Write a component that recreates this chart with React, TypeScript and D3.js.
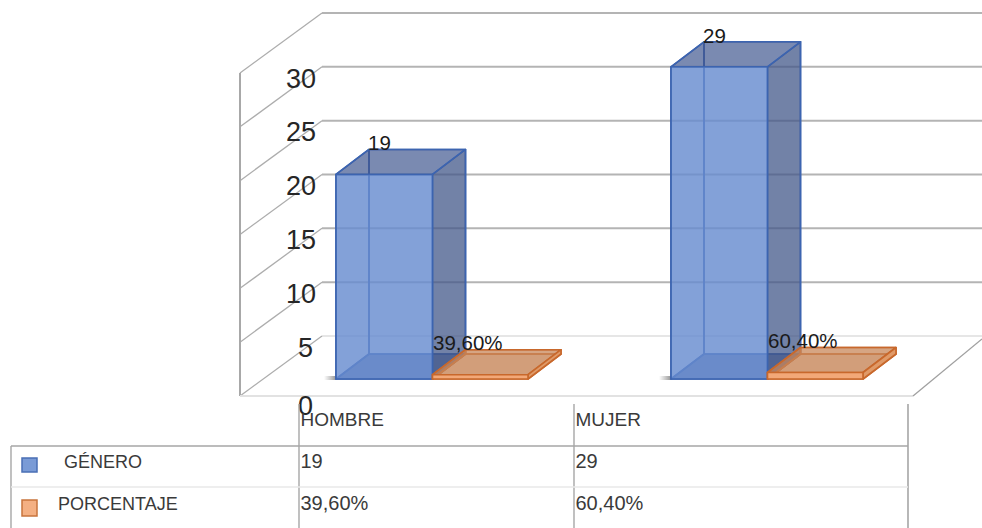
import React from "react";
import * as d3 from "d3";

// Chart values
const categories = ["HOMBRE", "MUJER"];
const genero = [19, 29];
const porcentaje = [0.396, 0.604];
const porcentajeLabels = ["39,60%", "60,40%"];
const seriesNames = ["GÉNERO", "PORCENTAJE"];
const ticks = [0, 5, 10, 15, 20, 25, 30];

const W = 982;
const H = 528;

// Oblique projection of the 3D box
const wall = { left: 240, frontFloor: 396, dx: 82, dy: 60, right: 913 };
const barDepth = { dx: 33, dy: 25 };
const y = d3.scaleLinear().domain([0, 30]).range([0, 323]);
const barBase = 379;
const bandStart = d3.scaleOrdinal<string, number>().domain(categories).range([336, 671]);
const barWidth = 96.5;

const line = d3.line();

type Box = { x: number; w: number; h: number };

function Box3D({ x, w, h, face, side, top, floor, back, stroke, sw }: Box & Record<string, any>) {
  const { dx, dy } = barDepth;
  const b = barBase;
  const t = b - h;
  const poly = (pts: [number, number][]) => line(pts)! + "Z";
  return (
    <g stroke={stroke} strokeWidth={sw} strokeLinejoin="round">
      <path d={poly([[x, b], [x + w, b], [x + w + dx, b - dy], [x + dx, b - dy]])} fill={floor} />
      <path d={poly([[x + dx, b - dy], [x + w + dx, b - dy], [x + w + dx, t - dy], [x + dx, t - dy]])} fill={back} />
      <path d={poly([[x, b], [x + dx, b - dy], [x + dx, t - dy], [x, t]])} fill={back} />
      <path d={poly([[x, t], [x + w, t], [x + w + dx, t - dy], [x + dx, t - dy]])} fill={top} />
      <path d={poly([[x + w, b], [x + w + dx, b - dy], [x + w + dx, t - dy], [x + w, t]])} fill={side} />
      <path d={poly([[x, b], [x + w, b], [x + w, t], [x, t]])} fill={face} />
    </g>
  );
}

const font = "'Liberation Sans', Arial, sans-serif";
const tableX = [299, 574, 908];
const rowLines = [446, 487];
const tableLeft = 11;

export default function App() {
  const backY = (v: number) => wall.frontFloor - wall.dy - y(v);
  const frontY = (v: number) => wall.frontFloor - y(v);
  const backX = wall.left + wall.dx;
  return (
    <svg width={W} height={H} style={{ position: "absolute", left: 0, top: 0, background: "#fff" }}>
      <defs>
        <linearGradient id="barShade" x1="0" x2="1" y1="0" y2="0">
          <stop offset="0" stopColor="#777" stopOpacity="0" />
          <stop offset="1" stopColor="#666" stopOpacity="0.7" />
        </linearGradient>
      </defs>

      {/* Back wall gridlines and side wall diagonals */}
      {ticks.map((v) => (
        <g key={v} fill="none">
          <path
            d={`M${backX},${backY(v)}H${W}`}
            stroke={v === 0 ? "#e6e6e6" : "#b4b4b4"}
            strokeWidth={2}
          />
          <path d={`M${wall.left},${frontY(v)}L${backX},${backY(v)}`} stroke="#adadad" strokeWidth={1.3} />
        </g>
      ))}
      <path d={`M${wall.left},${frontY(30)}V${frontY(0)}`} stroke="#a8a8a8" strokeWidth={2} fill="none" />
      <path d={`M${wall.left},${frontY(0)}H${wall.right}`} stroke="#e2e2e2" strokeWidth={2} fill="none" />
      <path d={`M${wall.right},${frontY(0)}L${W},${frontY(0) - 57}`} stroke="#a0a0a0" strokeWidth={1.3} fill="none" />

      {/* Bars */}
      {categories.map((c, i) => {
        const x = bandStart(c);
        return (
          <g key={c}>
            <rect x={x - 12} y={barBase - 3} width={12} height={4} fill="url(#barShade)" />
            <Box3D
              x={x}
              w={barWidth}
              h={y(genero[i])}
              face="rgba(104,140,208,0.8)"
              side="rgba(66,86,134,0.72)"
              top="rgba(62,84,140,0.66)"
              back="rgba(91,130,204,0.1)"
              floor="rgba(60,92,150,0.72)"
              stroke="#3c64b0"
              sw={1.6}
            />
            <Box3D
              x={x + barWidth}
              w={barWidth - 1}
              h={y(porcentaje[i])}
              face="#f2a878"
              side="#e09a68"
              top="rgba(200,135,90,0.72)"
              back="rgba(200,135,90,0.1)"
              floor="rgba(200,135,90,0.3)"
              stroke="#c8682c"
              sw={1.6}
            />
          </g>
        );
      })}

      {/* Axis numbers */}
      <g fontFamily={font} fontSize={27} fill="#262626" textAnchor="end">
        {ticks.map((v) => (
          <text key={v} x={v < 10 ? 313 : 316} y={frontY(v) + (v === 0 ? 18.5 : 14.5)}>
            {v}
          </text>
        ))}
      </g>

      {/* Data labels */}
      <g fontFamily={font} fontSize={20.5} fill="#1a1a1a">
        {categories.map((c, i) => {
          const x = bandStart(c);
          return (
            <g key={c}>
              <text x={x + barDepth.dx - 1} y={barBase - y(genero[i]) - barDepth.dy + 1}>
                {genero[i]}
              </text>
              <text x={x + barWidth + 0.5} y={350 - i * 2}>
                {porcentajeLabels[i]}
              </text>
            </g>
          );
        })}
      </g>

      {/* Data table below the plot */}
      <g stroke="#a6a6a6" fill="none">
        {tableX.map((x) => (
          <path key={x} d={`M${x},404V${H}`} strokeWidth={x === tableX[2] ? 1.6 : 1.4} />
        ))}
        <path d={`M${tableLeft},${rowLines[0]}V${H}`} strokeWidth={1.4} />
        <path d={`M${tableLeft},${rowLines[0]}H${tableX[2]}`} strokeWidth={1.6} />
        <path d={`M${tableLeft},${rowLines[1]}H${tableX[2]}`} strokeWidth={1.4} stroke="#e8e8e8" />
      </g>
      <g fontFamily={font} fill="#3a3a3a">
        {categories.map((c, i) => (
          <g key={c}>
            <text x={tableX[i] + 1.5} y={426} fontSize={19}>{c}</text>
            <text x={tableX[i] + 1.5} y={468} fontSize={20}>{genero[i]}</text>
            <text x={tableX[i] + 1.5} y={510} fontSize={20}>{porcentajeLabels[i]}</text>
          </g>
        ))}
        <text x={64} y={468} fontSize={18}>{seriesNames[0]}</text>
        <text x={58} y={510} fontSize={18}>{seriesNames[1]}</text>
      </g>

      {/* Legend keys */}
      <rect x={22} y={458} width={15} height={14} fill="#7a9bd6" stroke="#4a6fb5" strokeWidth={1.5} />
      <rect x={22} y={500} width={15} height={16} fill="#f4b083" stroke="#c8743c" strokeWidth={1.5} />
    </svg>
  );
}
